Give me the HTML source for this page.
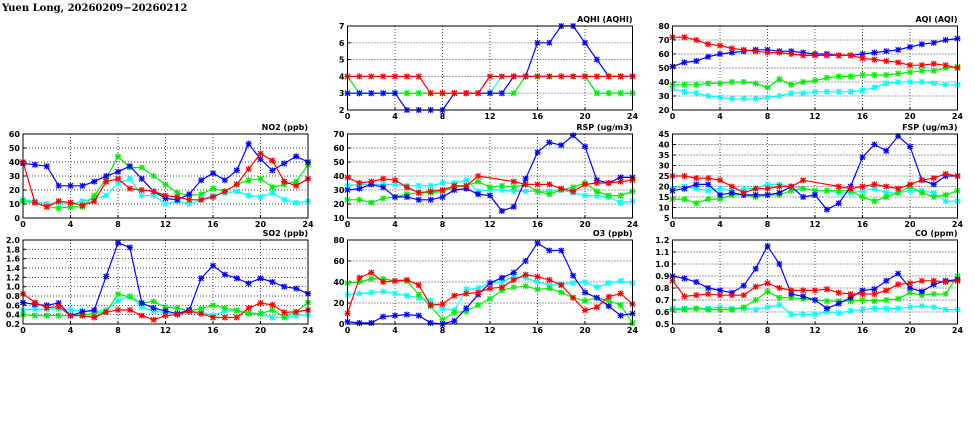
<!DOCTYPE html>
<html><head><meta charset="utf-8">
<style>
html,body{margin:0;padding:0;background:#fff;width:975px;height:447px;overflow:hidden}
svg{display:block}
text{font-family:"DejaVu Sans","Liberation Sans",sans-serif;font-weight:bold;font-size:8px;fill:#000}
.ttl{font-family:"DejaVu Serif","Liberation Serif",serif;font-size:10px}
</style></head>
<body>
<svg id="chart" width="975" height="447" viewBox="0 0 975 447">
<text class="ttl" x="2" y="11">Yuen Long, 20260209−20260212</text>
</svg>
<script>
const hours = [0,1,2,3,4,5,6,7,8,9,10,11,12,13,14,15,16,17,18,19,20,21,22,23,24];
const xTicks = [0,4,8,12,16,20,24];
const seriesColors = ["#0000ff","#ff0000","#00ee00","#00ffff"];

const aqhiBlue = [3,3,3,3,3,2,2,2,2,3,3,3,3,3,4,4,6,6,7,7,6,5,4,4,4];
const aqhiRed = [4,4,4,4,4,4,4,3,3,3,3,3,4,4,4,4,4,4,4,4,4,4,4,4,4];
const aqhiGreen = [4,3,3,3,3,3,3,3,3,3,3,3,3,3,3,4,4,4,4,4,4,3,3,3,3];
const aqhiCyan = [3,3,3,3,3,3,3,3,3,3,3,3,3,4,4,4,4,4,4,4,4,3,3,3,3];
const aqhiTicks = [2,3,4,5,6,7];

const aqiBlue = [51,54,55,58,60,61,62,63,63,62,62,61,60,60,59,59,60,61,62,63,65,67,68,70,71];
const aqiRed = [72,72,70,67,66,64,63,62,61,61,60,59,59,59,59,59,57,56,55,54,52,52,53,52,50];
const aqiGreen = [38,38,38,39,39,40,40,39,36,42,38,40,41,43,44,44,45,45,45,46,47,48,48,50,51];
const aqiCyan = [35,33,32,30,29,28,28,28,29,30,32,32,33,33,33,33,34,36,39,40,40,40,39,38,38];
const aqiTicks = [20,30,40,50,60,70,80];

const no2Blue = [39,38,37,23,23,23,26,30,33,37,28,19,14,13,17,27,32,27,34,53,42,34,39,44,40];
const no2Red = [40,11,8,12,11,9,12,26,28,21,20,19,16,15,13,13,15,19,24,35,46,41,26,23,28];
const no2Green = [12,11,8,7,8,8,16,28,44,36,36,30,24,18,16,17,21,19,24,27,28,22,24,26,38];
const no2Cyan = [13,12,10,11,10,12,14,16,25,28,16,16,10,12,10,13,16,18,19,16,15,18,13,11,12];
const no2Ticks = [0,10,20,30,40,50,60];

const rspBlue = [30,31,34,32,25,25,23,23,25,30,31,27,26,15,18,38,57,64,62,69,61,37,35,39,39];
const rspRed = [39,35,36,38,37,32,28,29,30,33,33,40,null,null,36,34,34,34,31,29,34,35,35,36,37];
const rspGreen = [23,23,21,24,25,27,28,28,29,32,33,36,32,33,32,34,29,27,30,32,35,29,26,26,29];
const rspCyan = [33,34,34,34,34,33,33,33,35,35,37,29,30,30,29,29,29,29,30,28,26,26,25,21,22];
const rspTicks = [10,20,30,40,50,60,70];

const fspBlue = [18,19,21,21,16,17,16,16,16,17,20,15,16,9,12,20,34,40,37,44,39,23,21,25,25];
const fspRed = [25,25,24,24,23,20,17,19,19,20,20,23,null,null,20,19,20,21,20,19,21,23,24,26,25];
const fspGreen = [14,14,12,14,14,16,16,15,16,16,18,19,18,18,18,18,15,13,15,17,20,17,15,16,18];
const fspCyan = [19,20,19,18,19,18,19,19,21,21,20,19,18,18,17,17,18,19,17,17,18,18,17,13,13];
const fspTicks = [5,10,15,20,25,30,35,40,45];

const so2Blue = [0.66,0.62,0.60,0.65,0.38,0.46,0.50,1.22,1.94,1.84,0.65,0.54,0.48,0.42,0.50,1.18,1.45,1.26,1.18,1.07,1.18,1.10,1.0,0.96,0.85];
const so2Red = [0.85,0.66,0.55,0.57,0.38,0.38,0.34,0.46,0.50,0.50,0.38,0.29,0.38,0.40,0.47,0.42,0.34,0.34,0.34,0.54,0.65,0.61,0.45,0.46,0.50];
const so2Green = [0.40,0.38,0.38,0.38,0.38,0.40,0.42,0.46,0.84,0.78,0.65,0.68,0.56,0.54,0.48,0.53,0.60,0.54,0.49,0.42,0.42,0.50,0.35,0.46,0.66];
const so2Cyan = [0.50,0.52,0.52,0.53,0.50,0.48,0.46,0.50,0.70,0.80,0.56,0.48,0.44,0.42,0.48,0.46,0.38,0.48,0.48,0.44,0.42,0.34,0.34,0.38,0.40];
const so2Ticks = ["0.2","0.4","0.6","0.8","1.0","1.2","1.4","1.6","1.8","2.0"];

const o3Blue = [2,1,1,7,8,9,8,1,0,3,15,28,39,44,49,60,77,70,70,46,30,25,17,8,10];
const o3Red = [10,44,49,40,41,42,37,18,19,27,29,30,34,35,42,47,45,42,37,25,13,16,26,29,19];
const o3Green = [39,40,43,43,41,41,28,17,4,11,12,18,24,32,35,36,33,34,30,25,22,25,22,18,1];
const o3Cyan = [28,29,30,31,29,27,25,22,15,13,33,34,39,40,45,44,40,37,38,39,40,35,39,41,39];
const o3Ticks = [0,20,40,60,80];

const coBlue = [0.90,0.88,0.85,0.80,0.78,0.76,0.82,0.96,1.15,1.00,0.75,0.73,0.70,0.63,0.67,0.72,0.78,0.79,0.86,0.92,0.80,0.77,0.83,0.86,0.87];
const coRed = [0.86,0.73,0.74,0.75,0.74,0.74,0.74,0.81,0.84,0.80,0.78,0.78,0.78,0.79,0.76,0.75,0.75,0.75,0.78,0.83,0.84,0.86,0.86,0.85,0.86];
const coGreen = [0.62,0.62,0.63,0.62,0.62,0.62,0.64,0.70,0.77,0.72,0.72,0.71,0.70,0.69,0.69,0.69,0.70,0.69,0.70,0.71,0.76,0.74,0.75,0.75,0.90];
const coCyan = [0.63,0.63,0.63,0.63,0.64,0.63,0.63,0.62,0.64,0.66,0.58,0.58,0.58,0.60,0.59,0.61,0.62,0.63,0.63,0.63,0.64,0.65,0.64,0.62,0.62];
const coTicks = ["0.5","0.6","0.7","0.8","0.9","1.0","1.1","1.2"];

const NS = "http://www.w3.org/2000/svg";
const svg = document.getElementById("chart");
function mk(tag, attrs, parent){
  const e = document.createElementNS(NS, tag);
  for (const k in attrs) e.setAttribute(k, attrs[k]);
  (parent||svg).appendChild(e);
  return e;
}
const drawOrder = [3,2,0,1];

function panel(key, title, x0, y0, w, h, ticks, series){
  const tv = ticks.map(Number);
  const ymin = tv[0], ymax = tv[tv.length-1];
  const xs = v => x0 + (v/24)*w;
  const ys = v => y0 + h - ((v - ymin)/(ymax - ymin))*h;
  const g = mk("g", {});
  
  
  xTicks.forEach(t => {
    if (t > 0 && t < 24) {
      const l = mk("line", {x1:xs(t), x2:xs(t), y1:y0, y2:y0+h, stroke:"#000", "stroke-width":0.7, "stroke-dasharray":"1,2"}, g);
      
      
    }
    const lb = mk("text", {x:xs(t), y:y0+h+9, "text-anchor":"middle"}, g);
    lb.textContent = t;
    
    
    mk("line", {x1:xs(t), x2:xs(t), y1:y0+h, y2:y0+h-3, stroke:"#000"}, g);
  });
  ticks.forEach(t => {
    const v = Number(t);
    if (v > ymin && v < ymax) {
      const l = mk("line", {x1:x0, x2:x0+w, y1:ys(v), y2:ys(v), stroke:"#000", "stroke-width":0.7, "stroke-dasharray":"1,2"}, g);
      
      
    }
    const lb = mk("text", {x:x0-3, y:ys(v)+3, "text-anchor":"end"}, g);
    lb.textContent = t;
    
    
    mk("line", {x1:x0, x2:x0+3, y1:ys(v), y2:ys(v), stroke:"#000"}, g);
  });
  drawOrder.forEach(si => {
    const arr = series[si];
    const col = seriesColors[si];
    const pts = [];
    hours.forEach((hh, i) => {
      if (arr[i] === null) return;
      const v = Math.max(ymin, Math.min(ymax, arr[i]));
      pts.push([xs(hh), ys(v)]);
    });
    const pl = mk("polyline", {points:pts.map(p=>p[0].toFixed(1)+","+p[1].toFixed(1)).join(" "), fill:"none", stroke:col, "stroke-width":1.2}, g);
    
    
    pts.forEach(p => {
      const m = mk("path", {d:`M${p[0]-2.5},${p[1]-2.5}L${p[0]+2.5},${p[1]+2.5}M${p[0]-2.5},${p[1]+2.5}L${p[0]+2.5},${p[1]-2.5}M${p[0]-3},${p[1]}L${p[0]+3},${p[1]}M${p[0]},${p[1]-3}L${p[0]},${p[1]+3}`, stroke:col, "stroke-width":1.2, fill:"none"}, g);
      
      
    });
  });
  const fr = mk("rect", {x:x0, y:y0, width:w, height:h, fill:"none", stroke:"#000", "stroke-width":1}, g);
  
  
  const tt = mk("text", {x:x0+w, y:y0-4, "text-anchor":"end"}, g);
  tt.textContent = title;
  
  
}

const C0 = 23, C1 = 347.5, C2 = 672.5, W = 285, H = 84;
const R0 = 26, R1 = 134, R2 = 240;
panel("aqhi", "AQHI (AQHI)", C1, R0, W, H, aqhiTicks, [aqhiBlue, aqhiRed, aqhiGreen, aqhiCyan]);
panel("aqi", "AQI (AQI)", C2, R0, W, H, aqiTicks, [aqiBlue, aqiRed, aqiGreen, aqiCyan]);
panel("no2", "NO2 (ppb)", C0, R1, W, H, no2Ticks, [no2Blue, no2Red, no2Green, no2Cyan]);
panel("rsp", "RSP (ug/m3)", C1, R1, W, H, rspTicks, [rspBlue, rspRed, rspGreen, rspCyan]);
panel("fsp", "FSP (ug/m3)", C2, R1, W, H, fspTicks, [fspBlue, fspRed, fspGreen, fspCyan]);
panel("so2", "SO2 (ppb)", C0, R2, W, H, so2Ticks, [so2Blue, so2Red, so2Green, so2Cyan]);
panel("o3", "O3 (ppb)", C1, R2, W, H, o3Ticks, [o3Blue, o3Red, o3Green, o3Cyan]);
panel("co", "CO (ppm)", C2, R2, W, H, coTicks, [coBlue, coRed, coGreen, coCyan]);
</script>
</body></html>
